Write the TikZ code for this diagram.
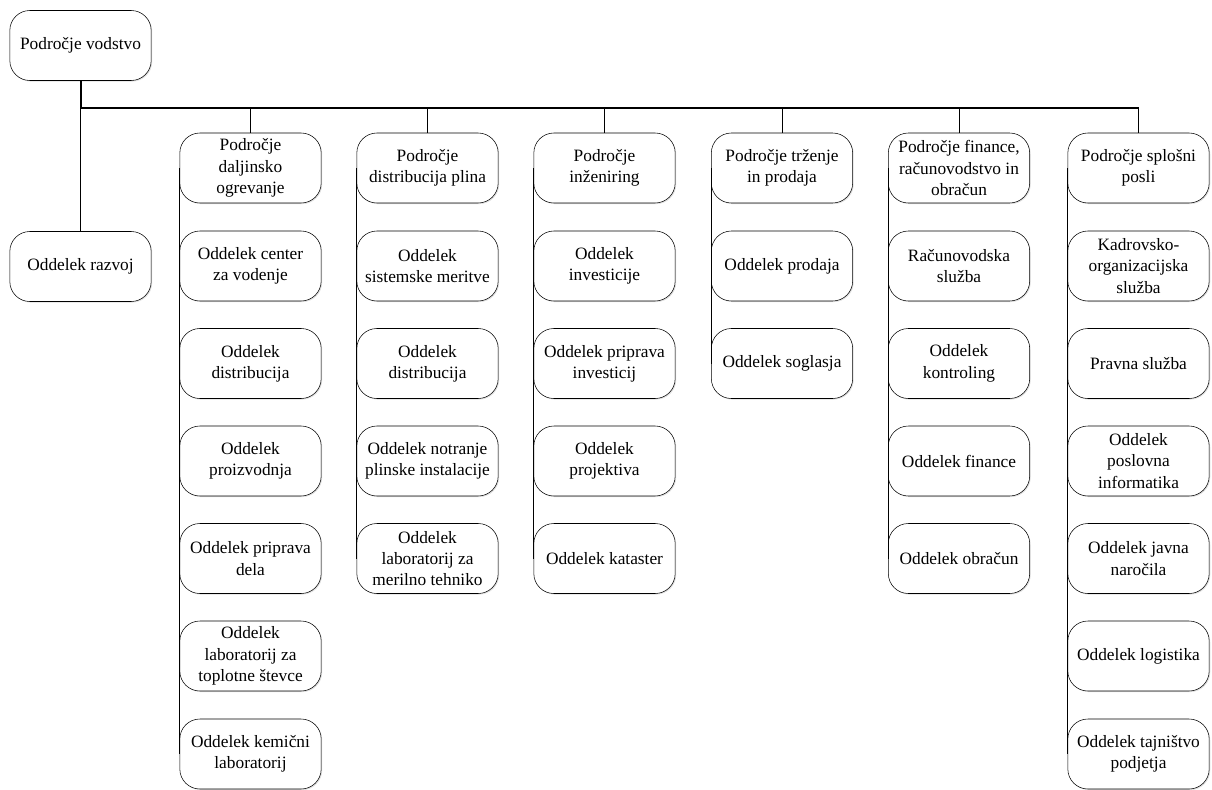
\documentclass[tikz,border=0pt]{standalone}
\usepackage{fontspec}
\setmainfont{Liberation Serif}
\usetikzlibrary{shadows}

\tikzset{
  enota/.style={rectangle, rounded corners=15pt, draw, fill=white, thin,
    minimum width=106pt, minimum height=52.5pt, inner sep=1pt, align=center,
    font=\fontsize{13}{16}\selectfont,
    drop shadow={opacity=0.25, shadow xshift=0.8pt, shadow yshift=-0.8pt}},
  povezava/.style={line width=0.6pt},
  vodilo/.style={line width=1.5pt}
}

\begin{document}
\begin{tikzpicture}[x=0.75pt, y=-0.75pt]
  \useasboundingbox (0,0) rectangle (1212,789);

  % vodstvo
  % v = vodstvo, r = razvoj, p1..p6 = podrocja, a,b,c,... = oddelki
  \node[enota] at (80.5, 45.5) (v) {Področje vodstvo};
  \node[enota] at (80.5, 266.5) (r) {Oddelek razvoj};

  % podrocja
  \node[enota] at (250.5, 168) (p1) {Področje\\daljinsko\\ogrevanje};
  \node[enota] at (427.5, 168) (p2) {Področje\\distribucija plina};
  \node[enota] at (604.5, 168) (p3) {Področje\\inženiring};
  \node[enota] at (782, 168) (p4) {Področje trženje\\in prodaja};
  \node[enota] at (959, 168) (p5) {Področje finance,\\računovodstvo in\\obračun};
  \node[enota] at (1138.5, 168) (p6) {Področje splošni\\posli};

  % oddelki: daljinsko ogrevanje
  \node[enota] at (250.5, 266) (p1a) {Oddelek center\\za vodenje};
  \node[enota] at (250.5, 363.5) (p1b) {Oddelek\\distribucija};
  \node[enota] at (250.5, 461) (p1c) {Oddelek\\proizvodnja};
  \node[enota] at (250.5, 558.5) (p1d) {Oddelek priprava\\dela};
  \node[enota] at (250.5, 656) (p1e) {Oddelek\\laboratorij za\\toplotne števce};
  \node[enota] at (250.5, 754) (p1f) {Oddelek kemični\\laboratorij};

  % oddelki: distribucija plina
  \node[enota] at (427.5, 266) (p2a) {Oddelek\\sistemske meritve};
  \node[enota] at (427.5, 363.5) (p2b) {Oddelek\\distribucija};
  \node[enota] at (427.5, 461) (p2c) {Oddelek notranje\\plinske instalacije};
  \node[enota] at (427.5, 558.5) (p2d) {Oddelek\\laboratorij za\\merilno tehniko};

  % oddelki: inzeniring
  \node[enota] at (604.5, 266) (p3a) {Oddelek\\investicije};
  \node[enota] at (604.5, 363.5) (p3b) {Oddelek priprava\\investicij};
  \node[enota] at (604.5, 461) (p3c) {Oddelek\\projektiva};
  \node[enota] at (604.5, 558.5) (p3d) {Oddelek kataster};

  % oddelki: trzenje in prodaja
  \node[enota] at (782, 266) (p4a) {Oddelek prodaja};
  \node[enota] at (782, 363.5) (p4b) {Oddelek soglasja};

  % oddelki: finance
  \node[enota] at (959, 266) (p5a) {Računovodska\\služba};
  \node[enota] at (959, 363.5) (p5b) {Oddelek\\kontroling};
  \node[enota] at (959, 461) (p5c) {Oddelek finance};
  \node[enota] at (959, 558.5) (p5d) {Oddelek obračun};

  % oddelki: splosni posli
  \node[enota] at (1138.5, 266) (p6a) {Kadrovsko-\\organizacijska\\služba};
  \node[enota] at (1138.5, 363.5) (p6b) {Pravna služba};
  \node[enota] at (1138.5, 461) (p6c) {Oddelek\\poslovna\\informatika};
  \node[enota] at (1138.5, 558.5) (p6d) {Oddelek javna\\naročila};
  \node[enota] at (1138.5, 656) (p6e) {Oddelek logistika};
  \node[enota] at (1138.5, 754) (p6f) {Oddelek tajništvo\\podjetja};

  % vodilo
  \coordinate (b0) at (80.5, 107.5);
  \coordinate (b6) at (1138.5, 107.5);

  \draw[vodilo] (v.south) -- (b0) -- (b6);
  \draw[povezava] (b0) -- (r.north);
  \foreach \p in {p1,p2,p3,p4,p5,p6}
    \draw[povezava] (b0 -| \p.north) -- (\p.north);

  % leve navpicnice
  \draw[povezava] (p1.west) -- (p1f.west);
  \draw[povezava] (p2.west) -- (p2d.west);
  \draw[povezava] (p3.west) -- (p3d.west);
  \draw[povezava] (p4.west) -- (p4b.west);
  \draw[povezava] (p5.west) -- (p5d.west);
  \draw[povezava] (p6.west) -- (p6f.west);

\end{tikzpicture}
\end{document}
